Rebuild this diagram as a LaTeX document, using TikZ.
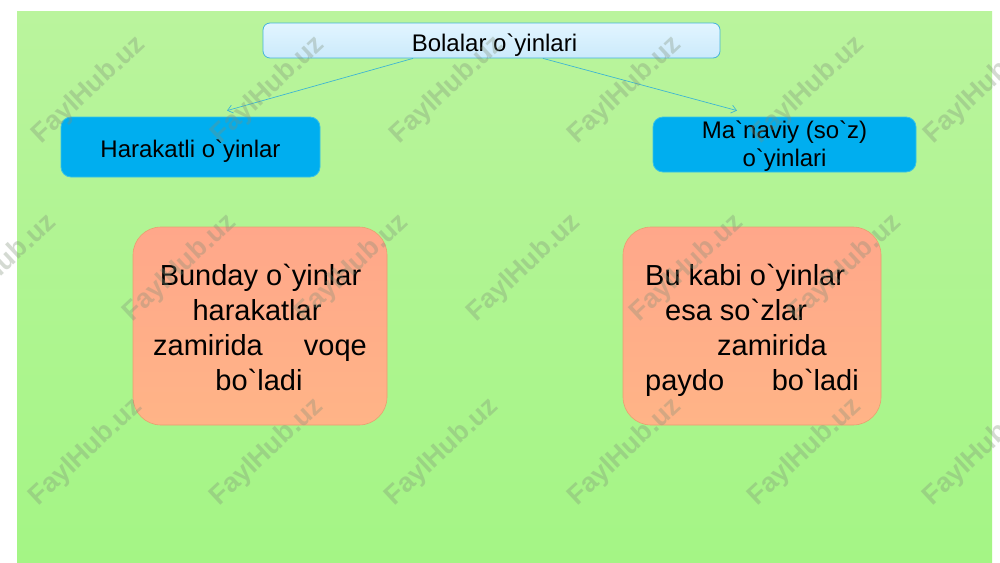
\documentclass[tikz,border=0pt]{standalone}
\usepackage{fontspec}
\setmainfont{Liberation Sans}
\usetikzlibrary{arrows.meta}
\newcommand{\grv}{\textasciigrave}
\definecolor{bgtop}{HTML}{BAF49D}
\definecolor{bgbot}{HTML}{A4F585}
\definecolor{titletop}{HTML}{E2F5FF}
\definecolor{titlebot}{HTML}{CBEAFB}
\definecolor{titleline}{HTML}{45B4DA}
\definecolor{cyanfill}{HTML}{00AEEF}
\definecolor{cyanline}{HTML}{38C2E6}
\definecolor{orgtop}{HTML}{FFA78A}
\definecolor{orgbot}{HTML}{FFB487}
\definecolor{orgline}{HTML}{E8A070}
\definecolor{arrowcol}{HTML}{3FB6D2}
\definecolor{wmcol}{HTML}{7F8F78}
\tikzset{
  titlebox/.style={draw=titleline, line width=0.8pt, rounded corners=7pt,
    top color=titletop, bottom color=titlebot, minimum width=457pt, minimum height=35pt, inner sep=0pt},
  cyanbox/.style={draw=cyanline, line width=0.8pt, fill=cyanfill, rounded corners=10pt, inner sep=0pt},
  orgbox/.style={draw=orgline, line width=0.6pt, top color=orgtop, bottom color=orgbot,
    rounded corners=28pt, inner sep=0pt},
  smalltxt/.style={font=\fontsize{24}{28}\selectfont, inner sep=0pt, text=black},
  bigtxt/.style={font=\fontsize{29}{35}\selectfont, inner sep=0pt, text=black},
  conn/.style={draw=arrowcol, line width=0.7pt, -{Straight Barb[length=5pt,width=8pt]}},
  wm/.style={font=\bfseries\fontsize{27}{27}\selectfont, text=wmcol, opacity=0.33, rotate=43, inner sep=0pt}
}
\begin{document}
\begin{tikzpicture}[x=1pt,y=-1pt]
\useasboundingbox (0,0) rectangle (1000,562);
\fill[white] (0,0) rectangle (1000,562);
\shade[top color=bgtop, bottom color=bgbot] (17,11) rectangle (992,562);

% boxes
\node[titlebox] (title) at (491.5,40.5) {};
\node[cyanbox, minimum width=259pt, minimum height=60pt] (harakat) at (190.5,147) {};
\node[cyanbox, minimum width=263pt, minimum height=55pt] (manaviy) at (784.5,144.5) {};
\node[orgbox, minimum width=254pt, minimum height=198pt] (leftbox) at (260,326) {};
\node[orgbox, minimum width=258pt, minimum height=198pt] (rightbox) at (752,326) {};

% texts
\node[smalltxt, anchor=base] (ttitle) at (494.5,51) {Bolalar o\grv yinlari};
\node[smalltxt, anchor=base] (tharakat) at (190.5,157) {Harakatli o\grv yinlar};
\node[smalltxt, anchor=base] (tman1) at (784.5,138) {Ma\grv naviy (so\grv z)};
\node[smalltxt, anchor=base] (tman2) at (784.5,166) {o\grv yinlari};

\node[bigtxt, anchor=base] (l1) at (260.5,285) {Bunday o\grv yinlar};
\node[bigtxt, anchor=base] (l2) at (257,320) {harakatlar};
\node[bigtxt, anchor=base west] (l3a) at (153,355) {zamirida};
\node[bigtxt, anchor=base east] (l3b) at (367,355) {voqe};
\node[bigtxt, anchor=base] (l4) at (259,390) {bo\grv ladi};

\node[bigtxt, anchor=base west] (r1) at (645,285) {Bu kabi o\grv yinlar};
\node[bigtxt, anchor=base west] (r2) at (665,320) {esa so\grv zlar};
\node[bigtxt, anchor=base west] (r3) at (717,355) {zamirida};
\node[bigtxt, anchor=base west] (r4a) at (645,390) {paydo};
\node[bigtxt, anchor=base east] (r4b) at (859,390) {bo\grv ladi};

% connectors
\coordinate (s1) at ([xshift=-78.5pt]title.south);
\coordinate (e1) at ([xshift=36.5pt,yshift=6pt]harakat.north);
\coordinate (s2) at ([xshift=51.5pt]title.south);
\coordinate (e2) at ([xshift=-47.5pt,yshift=6pt]manaviy.north);
\draw[conn] (s1) -- (e1);
\draw[conn] (s2) -- (e2);

% watermarks
\foreach \x/\y [count=\i] in {89/90,268/90,447/90,625/90,808/90,981/90,
  0/268,180/268,352/268,524/268,687/268,845/268,
  86/452,267/452,442/452,625/452,805/452,980/452}{
  \node[wm] (wm\i) at (\x,\y) {FaylHub.uz};
}
\end{tikzpicture}
\end{document}
